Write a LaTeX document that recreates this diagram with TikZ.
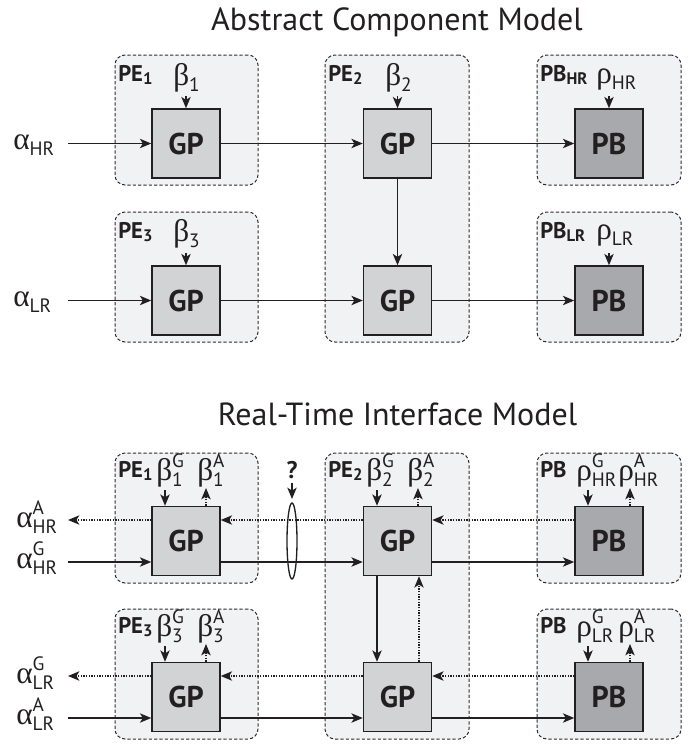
\documentclass[tikz,border=0pt]{standalone}
\usepackage{fontspec}
\setmainfont{PT Sans}
\newfontfamily\grk{Liberation Serif}
\usetikzlibrary{arrows.meta,shapes.geometric}
\definecolor{contfill}{HTML}{F1F2F3}
\definecolor{contline}{HTML}{2E2B2C}
\definecolor{gpfill}{HTML}{D1D3D4}
\definecolor{pbfill}{HTML}{A7A9AC}
\definecolor{ink}{HTML}{231F20}
\newcommand\scr{\fontsize{14.5}{14.5}\selectfont}
\newcommand\gsub[2]{{\grk #1}\raisebox{-5pt}{\scr #2}}
\newcommand\gss[3]{{\grk #1}\rlap{\raisebox{9.5pt}{\scr #2}}\raisebox{-4.5pt}{\scr #3}}
\newcommand\lsub[2]{#1\raisebox{-2.5pt}{\fontsize{12.5}{12.5}\selectfont #2}}
\tikzset{
  cont/.style={draw=contline, fill=contfill, line width=0.75pt, dash pattern=on 2.4pt off 1.6pt, rounded corners=7.5pt, inner sep=0pt},
  gpbox/.style={draw=ink, fill=gpfill, line width=1.1pt, minimum width=51pt, minimum height=51.75pt, inner sep=0pt, font=\bfseries\fontsize{22.5}{22.5}\selectfont, text=ink},
  pbbox/.style={gpbox, fill=pbfill},
  lbl/.style={inner sep=0pt, anchor=base west, text=ink, font=\bfseries\fontsize{17}{17}\selectfont},
  glbl/.style={inner sep=0pt, anchor=base west, text=ink, font=\fontsize{23.5}{23.5}\selectfont},
  ttl/.style={inner sep=0pt, anchor=base, text=ink, font=\fontsize{24}{24}\selectfont},
  arr/.style={draw=ink, line width=1.05pt, -{Stealth[length=8.5pt, width=7pt, inset=2.2pt]}},
  darr/.style={arr, dash pattern=on 1pt off 1pt},
}
\begin{document}
\begin{tikzpicture}[x=0.75pt, y=-0.75pt]
\useasboundingbox (0,0) rectangle (697,746);

%% ---------------- Abstract Component Model ----------------
\node[ttl] (t1) at (397,30) {Abstract Component Model};

\node[cont, minimum width=107.25pt, minimum height=97.5pt] (c1) at (186.5,120) {};
\node[cont, minimum width=108pt, minimum height=215.25pt] (c2) at (397,198.5) {};
\node[cont, minimum width=108pt, minimum height=97.5pt] (c3) at (609,120) {};
\node[cont, minimum width=107.25pt, minimum height=97.5pt] (c4) at (186.5,277) {};
\node[cont, minimum width=108pt, minimum height=97.5pt] (c5) at (609,277) {};

\node[gpbox] (g1) at (186,143.5) {GP};
\node[gpbox] (g2) at (397.5,143.5) {GP};
\node[pbbox] (p1) at (609,143.5) {PB};
\node[gpbox] (g3) at (186,300.5) {GP};
\node[gpbox] (g4) at (397.5,300.5) {GP};
\node[pbbox] (p2) at (609,300.5) {PB};

\node[lbl] (l1) at (118,81) {\lsub{PE}{1}};
\node[lbl] (l2) at (328,81) {\lsub{PE}{2}};
\node[lbl] (l3) at (540,81) {\lsub{PB}{HR}};
\node[lbl] (l4) at (118,238) {\lsub{PE}{3}};
\node[lbl] (l5) at (540,238) {\lsub{PB}{LR}};

\node[glbl] (b1) at (173,85) {\gsub{β}{1}};
\node[glbl] (b2) at (385,85) {\gsub{β}{2}};
\node[glbl] (r1) at (596,83) {\gsub{ρ}{HR}};
\node[glbl] (b3) at (173,241) {\gsub{β}{3}};
\node[glbl] (r2) at (596,239) {\gsub{ρ}{LR}};
\node[glbl] (a1) at (13,149) {\gsub{α}{HR}};
\node[glbl] (a2) at (13,306) {\gsub{α}{LR}};

\coordinate (tb1) at (186,96);
\coordinate (tb2) at (397.5,96);
\coordinate (tr1) at (609,96);
\coordinate (tb3) at (186,253);
\coordinate (tr2) at (609,253);
\coordinate (ta1) at (68,143.5);
\coordinate (ta2) at (68,300.5);

\draw[arr] (tb1) -- (g1.north);
\draw[arr] (tb2) -- (g2.north);
\draw[arr] (tr1) -- (p1.north);
\draw[arr] (tb3) -- (g3.north);
\draw[arr] (tr2) -- (p2.north);
\draw[arr] (ta1) -- (g1.west);
\draw[arr] (ta2) -- (g3.west);
\draw[arr] (g1.east) -- (g2.west);
\draw[arr] (g2.east) -- (p1.west);
\draw[arr] (g3.east) -- (g4.west);
\draw[arr] (g4.east) -- (p2.west);
\draw[arr] (g2.south) -- (g4.north);

%% ---------------- Real-Time Interface Model ----------------
\node[ttl] (t2) at (397.5,425) {Real-Time Interface Model};

\node[cont, minimum width=107.25pt, minimum height=97.5pt] (d1) at (186.5,518) {};
\node[cont, minimum width=108pt, minimum height=214.5pt] (d2) at (397,596) {};
\node[cont, minimum width=108pt, minimum height=97.5pt] (d3) at (609,518) {};
\node[cont, minimum width=107.25pt, minimum height=97.5pt] (d4) at (186.5,674) {};
\node[cont, minimum width=108pt, minimum height=97.5pt] (d5) at (609,674) {};

\node[gpbox] (G1) at (186,541) {GP};
\node[gpbox] (G2) at (397.5,541) {GP};
\node[pbbox] (P1) at (609,541) {PB};
\node[gpbox] (G3) at (186,697) {GP};
\node[gpbox] (G4) at (397.5,697) {GP};
\node[pbbox] (P2) at (609,697) {PB};

\node[lbl] (m1) at (118,477) {\lsub{PE}{1}};
\node[lbl] (m2) at (328,477) {\lsub{PE}{2}};
\node[lbl] (m3) at (540,477) {PB};
\node[lbl] (m4) at (118,633) {\lsub{PE}{3}};
\node[lbl] (m5) at (540,633) {PB};

\node[glbl] (bg1) at (156,480) {\gss{β}{G}{1}};
\node[glbl] (ba1) at (197,480) {\gss{β}{A}{1}};
\node[glbl] (bg2) at (366,480) {\gss{β}{G}{2}};
\node[glbl] (ba2) at (407,480) {\gss{β}{A}{2}};
\node[glbl] (rg1) at (576,480) {\gss{ρ}{G}{HR}};
\node[glbl] (ra1) at (618,480) {\gss{ρ}{A}{HR}};
\node[glbl] (bg3) at (156,636) {\gss{β}{G}{3}};
\node[glbl] (ba3) at (197,636) {\gss{β}{A}{3}};
\node[glbl] (rg2) at (576,636) {\gss{ρ}{G}{LR}};
\node[glbl] (ra2) at (618,636) {\gss{ρ}{A}{LR}};

\node[glbl] (aA1) at (16,527) {\gss{α}{A}{HR}};
\node[glbl] (aG1) at (16,568) {\gss{α}{G}{HR}};
\node[glbl] (aG2) at (16,683) {\gss{α}{G}{LR}};
\node[glbl] (aA2) at (16,724) {\gss{α}{A}{LR}};

\node[inner sep=0pt, anchor=base, text=ink, font=\bfseries\fontsize{18}{18}\selectfont] (q) at (292,478) {?};
\node[draw=ink, line width=1pt, ellipse, minimum width=7.5pt, minimum height=57pt, inner sep=0pt] (E) at (292,541) {};
\draw[arr] ([yshift=-3pt]q.south) -- ([yshift=2.5pt]E.north);

% free ends of the left arrows
\coordinate (hro) at (68,520);
\coordinate (hri) at (68,562);
\coordinate (lro) at (68,676);
\coordinate (lri) at (68,718);

% horizontal: HR row
\draw[darr] (hro -| G1.west) -- (hro);
\draw[arr] (hri) -- (hri -| G1.west);
\draw[darr] (hro -| G2.west) -- (hro -| G1.east);
\draw[arr] (hri -| G1.east) -- (hri -| G2.west);
\draw[darr] (hro -| P1.west) -- (hro -| G2.east);
\draw[arr] (hri -| G2.east) -- (hri -| P1.west);
% horizontal: LR row
\draw[darr] (lro -| G3.west) -- (lro);
\draw[arr] (lri) -- (lri -| G3.west);
\draw[darr] (lro -| G4.west) -- (lro -| G3.east);
\draw[arr] (lri -| G3.east) -- (lri -| G4.west);
\draw[darr] (lro -| P2.west) -- (lro -| G4.east);
\draw[arr] (lri -| G4.east) -- (lri -| P2.west);

% vertical between the PE2 boxes
\coordinate (vd) at (377,600);
\coordinate (vu) at (419,600);
\draw[arr] (vd |- G2.south) -- (vd |- G4.north);
\draw[darr] (vu |- G4.north) -- (vu |- G2.south);

% resource arrows (top of boxes)
\coordinate (sg1) at (165,490);
\coordinate (sa1) at (206,488);
\coordinate (sg2) at (377,490);
\coordinate (sa2) at (418,488);
\coordinate (sg3) at (588,490);
\coordinate (sa3) at (630,488);
\coordinate (sg4) at (165,646);
\coordinate (sa4) at (206,644);
\coordinate (sg5) at (588,646);
\coordinate (sa5) at (630,644);

\draw[arr] (sg1) -- (sg1 |- G1.north);
\draw[darr] (sa1 |- G1.north) -- (sa1);
\draw[arr] (sg2) -- (sg2 |- G2.north);
\draw[darr] (sa2 |- G2.north) -- (sa2);
\draw[arr] (sg3) -- (sg3 |- P1.north);
\draw[darr] (sa3 |- P1.north) -- (sa3);
\draw[arr] (sg4) -- (sg4 |- G3.north);
\draw[darr] (sa4 |- G3.north) -- (sa4);
\draw[arr] (sg5) -- (sg5 |- P2.north);
\draw[darr] (sa5 |- P2.north) -- (sa5);
\end{tikzpicture}
\end{document}
